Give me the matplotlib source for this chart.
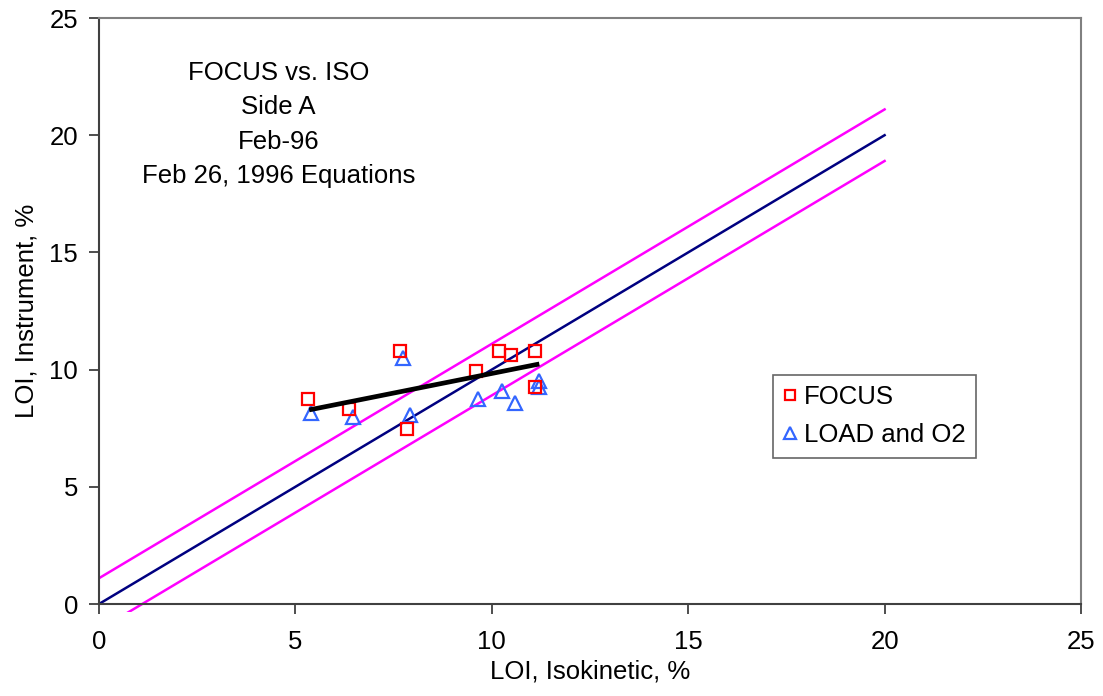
import numpy as np
import matplotlib
matplotlib.use("Agg")
import matplotlib.pyplot as plt
from matplotlib.transforms import Bbox, TransformedBbox

plt.rcParams['font.family'] = ['Liberation Sans', 'DejaVu Sans']

# Measured points
focus_x = [5.32, 7.66, 6.37, 7.85, 9.60, 10.19, 10.50, 11.11, 11.11]
focus_y = [8.73, 10.78, 8.30, 7.45, 9.93, 10.78, 10.61, 10.78, 9.24]

load_x = [5.40, 7.73, 6.46, 7.93, 9.66, 10.27, 10.58, 11.19, 11.19]
load_y = [8.13, 10.49, 7.96, 8.05, 8.73, 9.08, 8.56, 9.50, 9.24]

# Regression line of the FOCUS readings
fit_x = [5.35, 11.21]
fit_y = [8.28, 10.24]

# 1:1 line with +/- band
ref_x = list(range(0, 21))
ref_y = [float(v) for v in ref_x]
upper_y = [v + 1.1 for v in ref_y]
lower_y = [v - 1.1 for v in ref_y]

title_lines = ["FOCUS vs. ISO", "Side A", "Feb-96", "Feb 26, 1996 Equations"]

W, H = 1103, 696
fig = plt.figure(figsize=(W / 100, H / 100), dpi=100)
ax = fig.add_axes([99 / W, 1 - 604 / H, (1081 - 99) / W, (604 - 18) / H])

ax.plot(ref_x, upper_y, color='#FF00FF', lw=1.8, zorder=2)
low, = ax.plot(ref_x, lower_y, color='#FF00FF', lw=1.8, zorder=2, clip_on=True)
low.set_clip_box(TransformedBbox(Bbox([[0, -0.35], [25, 25]]), ax.transData))
ax.plot(ref_x, ref_y, color='#000080', lw=1.8, zorder=2)

ax.plot(focus_x, focus_y, ls='none', marker='s', ms=8.5, mfc='none',
        mec='#FF0000', mew=1.6, label='FOCUS', zorder=4)
ax.plot(load_x, load_y, ls='none', marker='^', ms=10, mfc='none',
        mec='#3366FF', mew=1.6, label='LOAD and O2', zorder=3)
ax.plot(fit_x, fit_y, color='black', lw=3.4, zorder=5, solid_capstyle='butt')

ax.set_xlim(0, 25)
ax.set_ylim(0, 25)
ax.set_xticks([0, 5, 10, 15, 20, 25])
ax.set_yticks([0, 5, 10, 15, 20, 25])

for side in ('top', 'right'):
    ax.spines[side].set_color('#808080')
    ax.spines[side].set_linewidth(1.5)
for side in ('left', 'bottom'):
    ax.spines[side].set_color('#404040')
    ax.spines[side].set_linewidth(1.5)

ax.tick_params(direction='out', length=7, width=1.3, color='#404040',
               labelsize=18.5, pad=8)
ax.tick_params(axis='x', pad=12)

ax.set_xlabel('LOI, Isokinetic, %', fontsize=18.5, labelpad=4)
ax.set_ylabel('LOI, Instrument, %', fontsize=18.5, labelpad=8)

for i, line in enumerate(title_lines):
    ax.text(4.57, 22.35 - i * 1.46, line, fontsize=18.5, ha='center', va='baseline')

leg = ax.legend(loc='upper left', bbox_to_anchor=(773 / W, 1 - 375 / H),
                bbox_transform=fig.transFigure, fancybox=False, frameon=True,
                edgecolor='#404040', fontsize=18.5, handlelength=0.5,
                handletextpad=0.3, markerscale=0.8, borderpad=0.4,
                labelspacing=0.55, borderaxespad=0)
leg.get_frame().set_linewidth(1.2)

fig.savefig('out.png', dpi=100)
